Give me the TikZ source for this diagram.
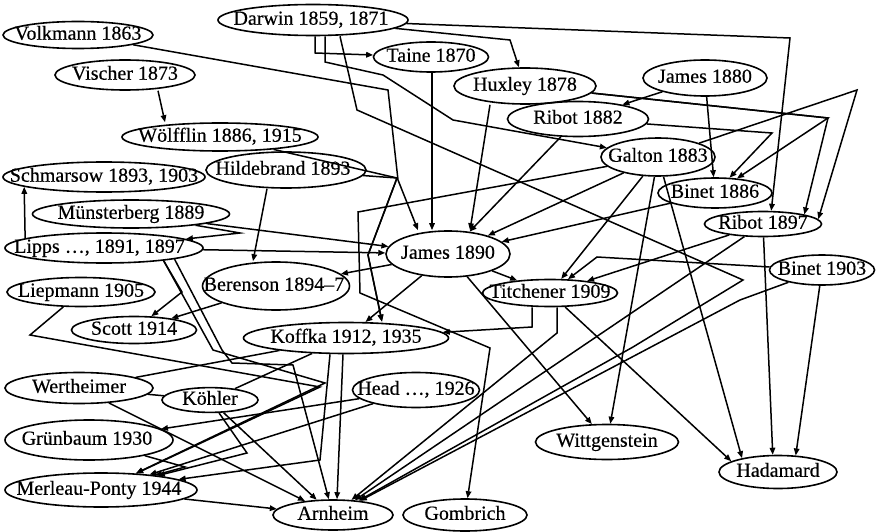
\documentclass[tikz,border=0pt]{standalone}
\usepackage{fontspec}
\setmainfont[FakeBold=0.4]{Liberation Serif}
\usetikzlibrary{shapes.geometric,arrows.meta}
\newcommand{\ntxt}[2][0]{\makebox[0pt]{\hspace*{#1pt}#2}}
\begin{document}
\begin{tikzpicture}[x=1pt,y=-1pt,
  E/.style 2 args={ellipse, draw, line width=1.6pt, inner sep=0pt, minimum width=#1pt, minimum height=#2pt,
     text height=13.5pt, text depth=4pt, font=\fontsize{20}{21}\selectfont},
  arr/.style={line width=1.5pt, -{Triangle[length=7pt,width=5.5pt]}},
  ln/.style={line width=1.5pt}]
\useasboundingbox[fill=white] (0,0) rectangle (878,532);
% nodes
\node[E={190}{31}] (darwin) at (313,20) {\ntxt[-4]{Darwin 1859, 1871}};
\node[E={150}{27}] (volkmann) at (78,35) {\ntxt{Volkmann 1863}};
\node[E={140}{30}] (vischer) at (125,75) {\ntxt{Vischer 1873}};
\node[E={115}{30}] (taine) at (431,57) {\ntxt{Taine 1870}};
\node[E={142}{36}] (huxley) at (525,86) {\ntxt{Huxley 1878}};
\node[E={124}{36}] (jamesA) at (705,78) {\ntxt{James 1880}};
\node[E={141}{35}] (ribotA) at (578,119) {\ntxt{Ribot 1882}};
\node[E={196}{28}] (wolfflin) at (220,137) {\ntxt{Wölfflin 1886, 1915}};
\node[E={114}{38}] (galton) at (658,157) {\ntxt{Galton 1883}};
\node[E={202}{30}] (schmarsow) at (104,177) {\ntxt{Schmarsow 1893, 1903}};
\node[E={160}{36}] (hildebrand) at (286,170) {\ntxt[-6]{Hildebrand 1893}};
\node[E={114}{30}] (binetA) at (715,193) {\ntxt{Binet 1886}};
\node[E={197}{28}] (munster) at (131,214) {\ntxt{Münsterberg 1889}};
\node[E={117}{25}] (ribotB) at (763,224) {\ntxt{Ribot 1897}};
\node[E={198}{30}] (lipps) at (104,248) {\ntxt[-9]{Lipps …, 1891, 1897}};
\node[E={124}{46}] (jamesB) at (448,254) {\ntxt{James 1890}};
\node[E={148}{29}] (liepmann) at (81,292) {\ntxt{Liepmann 1905}};
\node[E={147}{48}] (berenson) at (276,286) {\ntxt[-4]{Berenson 1894–7}};
\node[E={135}{27}] (titchener) at (550,293) {\ntxt{Titchener 1909}};
\node[E={105}{30}] (binetB) at (822,270) {\ntxt{Binet 1903}};
\node[E={125}{27}] (scott) at (134,330) {\ntxt{Scott 1914}};
\node[E={205}{31}] (koffka) at (346,338) {\ntxt{Koffka 1912, 1935}};
\node[E={148}{31}] (wertheimer) at (79,388) {\ntxt{Wertheimer}};
\node[E={96}{22}] (kohler) at (210,400) {\ntxt{Köhler}};
\node[E={127}{35}] (head) at (416,390) {\ntxt{Head …, 1926}};
\node[E={168}{40}] (grunbaum) at (89,440) {\ntxt[-4]{Grünbaum 1930}};
\node[E={143}{35}] (wittgenstein) at (607,442) {\ntxt{Wittgenstein}};
\node[E={118}{33}] (hadamard) at (778,472) {\ntxt{Hadamard}};
\node[E={192}{34}] (mp) at (101,490) {\ntxt[-4]{Merleau-Ponty 1944}};
\node[E={120}{30}] (arnheim) at (333,515) {\ntxt{Arnheim}};
\node[E={124}{32}] (gombrich) at (465,515) {\ntxt{Gombrich}};
% Darwin
\draw[arr] (darwin.south -| 315,0) -- (315,53) -- (taine);
\draw[arr] (darwin) -- (510,40) -- (huxley);
\draw[arr] (darwin) -- (790,38) -- (ribotB.58);
\draw[arr] (darwin.south -| 325,0) -- (325,62) -- (383,75) -- (453,120) -- (galton);
\draw[arr] (darwin.south -| 340,0) -- (357,110) -- (743,280) -- (633,347) -- (arnheim);
% upper left
\draw[arr] (volkmann) -- (388,90) -- (398,180) -- (jamesB.north -| 418,0);
\draw[arr] (vischer.south -| 158,0) -- (wolfflin.north -| 165,0);
\draw[arr] (wolfflin) -- (397,178) -- (368,255) -- (koffka.north -| 382,0);
\draw[arr] (hildebrand) -- (397,178) -- (368,255) -- (koffka.north -| 382,0);
\draw[arr] (hildebrand.south -| 267,0) -- (berenson.north -| 253,0);
\draw[arr] (munster) -- (240,233) -- (lipps);
\draw[arr] (munster) -- (jamesB);
\draw[arr] (lipps) -- (jamesB);
\draw[arr] (lipps.173) -- (schmarsow.-173);
\draw[arr] (liepmann) -- (30,335) -- (320,387) -- (mp);
\draw[arr] (berenson) -- (scott);
\draw[arr] (lipps.-12) -- (182,292) -- (scott);
\draw[arr] (lipps.-12) -- (213,350) -- (325,383) -- (mp);
\draw[arr] (lipps.-9) -- (222,350) -- (232,363) -- (293,365) -- (arnheim);
% James 1890
\draw[arr] (jamesB) -- (berenson);
\draw[arr] (jamesB) -- (koffka);
\draw[arr] (jamesB) -- (titchener);
\draw[arr] (jamesB) -- (wittgenstein);
% into James 1890
\draw[arr] (taine.south -| 432,0) -- (jamesB.north -| 432,0);
\draw[arr] (huxley.south -| 490,0) -- (jamesB.north -| 470,0);
\draw[arr] (ribotA) -- (jamesB);
\draw[arr] (galton) -- (jamesB);
\draw[arr] (binetA) -- (jamesB);
% right upper
\draw[arr] (jamesA) -- (ribotA);
\draw[arr] (jamesA) -- (binetA);
\draw[arr] (huxley) -- (828,118) -- (binetA);
\draw[arr] (huxley) -- (828,118) -- (ribotB.13);
\draw[arr] (ribotA) -- (772,133) -- (binetA);
\draw[arr] (galton) -- (857,90) -- (ribotB.5);
% Galton
\draw[arr] (galton) -- (358,212) -- (360,293) -- (490,348) -- (gombrich);
\draw[arr] (galton) -- (titchener);
\draw[arr] (galton) -- (wittgenstein);
\draw[arr] (galton) -- (hadamard.159);
% Titchener
\draw[arr] (titchener.south -| 532,0) -- (532,327) -- (koffka);
\draw[arr] (titchener.south -| 557,0) -- (557,333) -- (arnheim);
\draw[arr] (titchener) -- (hadamard.167);
% Ribot 1897, Binet 1903
\draw[arr] (ribotB) -- (titchener);
\draw[arr] (ribotB) -- (arnheim);
\draw[arr] (ribotB) -- (hadamard.107);
\draw[arr] (binetB) -- (597,257) -- (titchener);
\draw[arr] (binetB) -- (740,300) -- (arnheim);
\draw[arr] (binetB) -- (hadamard.43);
% Gestalt group
\draw[ln] (koffka) -- (wertheimer);
\draw[ln] (koffka) -- (kohler);
\draw[ln] (wertheimer) -- (kohler);
\draw[arr] (wertheimer) -- (arnheim);
\draw[arr] (kohler) -- (arnheim);
\draw[arr] (kohler) -- (247,453) -- (mp);
\draw[arr] (koffka.south -| 343,0) -- (arnheim.north -| 337,0);
\draw[arr] (koffka.south -| 330,0) -- (320,460) -- (mp);
\draw[arr] (head) -- (grunbaum);
\draw[arr] (head) -- (mp);
\draw[arr] (grunbaum) -- (185,467) -- (mp);
\draw[arr] (mp) -- (arnheim);
\end{tikzpicture}
\end{document}
